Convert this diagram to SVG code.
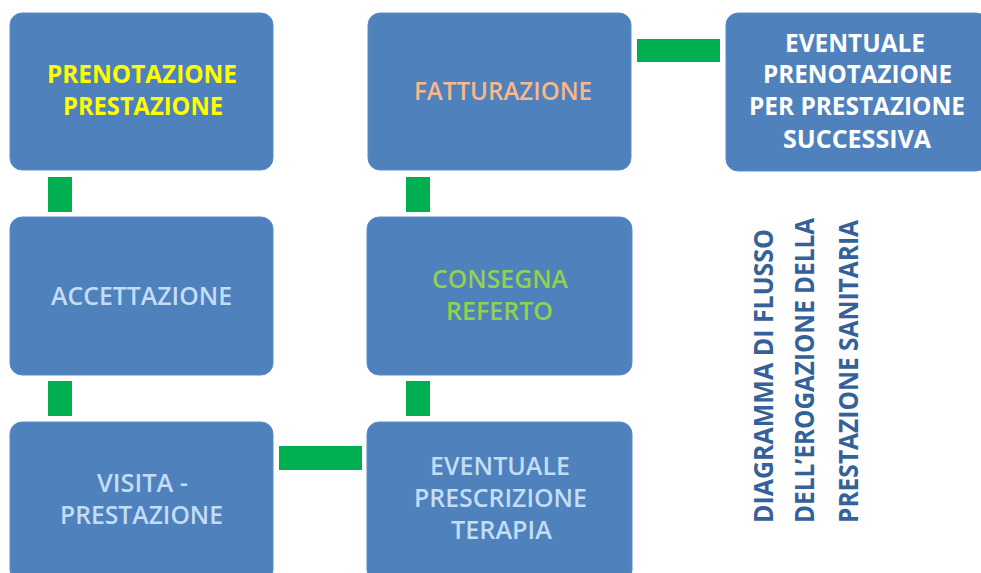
<svg xmlns="http://www.w3.org/2000/svg" width="981" height="573" viewBox="0 0 981 573">
<style>
.box{fill:#4F81BD;stroke:#5A8ACB;stroke-width:1}
.con{fill:#00B050}
text{font-family:"Open Sans","Noto Sans","Liberation Sans",sans-serif;font-size:25px;text-anchor:middle;font-weight:600}
.b{font-weight:bold}
.lb{fill:#C2DDF5}
.title{font-size:27px;font-weight:bold;fill:#34619A;text-anchor:start}
</style>
<rect width="981" height="573" fill="#FFFFFF"/>
<g id="connectors">
<rect class="con" x="48" y="177" width="24" height="35"/>
<rect class="con" x="48" y="381" width="24" height="35"/>
<rect class="con" x="406" y="177" width="24" height="35"/>
<rect class="con" x="406" y="381" width="24" height="35"/>
<rect class="con" x="637" y="39" width="83" height="23"/>
<rect class="con" x="279" y="446" width="83" height="24"/>
</g>
<g id="prenotazione">
<rect class="box" x="10" y="13" width="263" height="157" rx="12"/>
<text class="b" fill="#FFFF00" x="142" y="83" textLength="190" lengthAdjust="spacingAndGlyphs">PRENOTAZIONE</text>
<text class="b" fill="#FFFF00" x="143" y="115" textLength="160" lengthAdjust="spacingAndGlyphs">PRESTAZIONE</text>
</g>
<g id="accettazione">
<rect class="box" x="10" y="217" width="263" height="158" rx="12"/>
<text class="lb" x="141.5" y="305" textLength="181" lengthAdjust="spacingAndGlyphs">ACCETTAZIONE</text>
</g>
<g id="visita">
<rect class="box" x="10" y="422" width="263" height="160" rx="12"/>
<text class="lb" x="142.5" y="492" textLength="91" lengthAdjust="spacingAndGlyphs">VISITA -</text>
<text class="lb" x="141.5" y="524" textLength="163" lengthAdjust="spacingAndGlyphs">PRESTAZIONE</text>
</g>
<g id="prescrizione">
<rect class="box" x="367" y="422" width="265" height="160" rx="12"/>
<text class="lb" x="500" y="475" textLength="140" lengthAdjust="spacingAndGlyphs">EVENTUALE</text>
<text class="lb" x="500.5" y="507" textLength="173" lengthAdjust="spacingAndGlyphs">PRESCRIZIONE</text>
<text class="lb" x="501.5" y="539" textLength="101" lengthAdjust="spacingAndGlyphs">TERAPIA</text>
</g>
<g id="consegna">
<rect class="box" x="367" y="217" width="265" height="158" rx="12"/>
<text fill="#92D050" x="500" y="288" textLength="136" lengthAdjust="spacingAndGlyphs">CONSEGNA</text>
<text fill="#92D050" x="499.5" y="320" textLength="107" lengthAdjust="spacingAndGlyphs">REFERTO</text>
</g>
<g id="fatturazione">
<rect class="box" x="368" y="13" width="263" height="157" rx="12"/>
<text fill="#F8B88B" x="503" y="100" textLength="178" lengthAdjust="spacingAndGlyphs">FATTURAZIONE</text>
</g>
<g id="eventuale-prenotazione">
<rect class="box" x="726" y="13" width="262" height="158" rx="12"/>
<text class="b" fill="#FFFFFF" x="855" y="52" textLength="140" lengthAdjust="spacingAndGlyphs">EVENTUALE</text>
<text class="b" fill="#FFFFFF" x="857.5" y="83" textLength="189" lengthAdjust="spacingAndGlyphs">PRENOTAZIONE</text>
<text class="b" fill="#FFFFFF" x="857" y="115" textLength="216" lengthAdjust="spacingAndGlyphs">PER PRESTAZIONE</text>
<text class="b" fill="#FFFFFF" x="857" y="148" textLength="148" lengthAdjust="spacingAndGlyphs">SUCCESSIVA</text>
</g>
<g id="title">
<text class="title" transform="translate(773,523) rotate(-90)" textLength="294" lengthAdjust="spacingAndGlyphs">DIAGRAMMA DI FLUSSO</text>
<text class="title" transform="translate(814,523) rotate(-90)" textLength="305" lengthAdjust="spacingAndGlyphs">DELL’EROGAZIONE DELLA</text>
<text class="title" transform="translate(858,523) rotate(-90)" textLength="303" lengthAdjust="spacingAndGlyphs">PRESTAZIONE SANITARIA</text>
</g>
</svg>
